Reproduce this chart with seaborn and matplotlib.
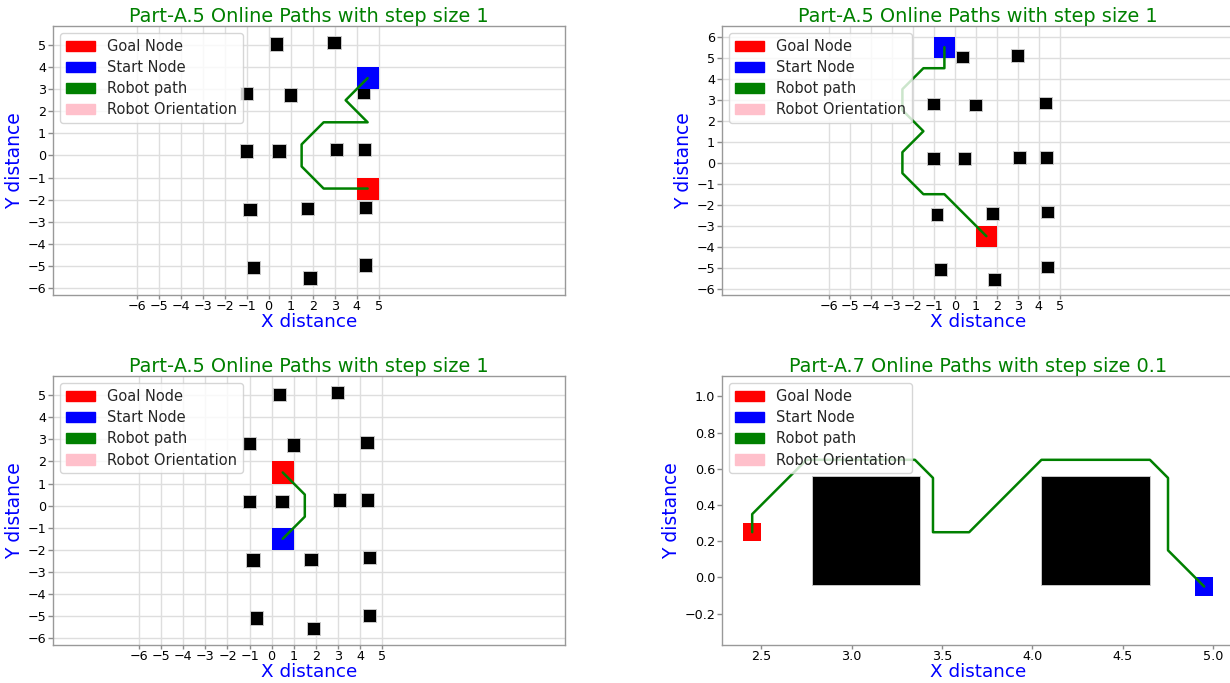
import matplotlib
matplotlib.use("Agg")
import matplotlib.pyplot as plt
from matplotlib.patches import Rectangle, Patch
import seaborn as sns

# Landmark obstacles (centres, metres)
obstacle_x = [0.35, 2.97, -1.02, 0.99, 4.32, -1.01, 0.47, 3.08, 4.35, -0.85, 1.78, 4.42, -0.69, 1.88, 4.42]
obstacle_y = [5.04, 5.10, 2.80, 2.74, 2.85, 0.20, 0.20, 0.26, 0.26, -2.46, -2.42, -2.35, -5.08, -5.55, -4.96]

# Run 1, step size 1
start1 = (4.5, 3.5)
goal1 = (4.5, -1.5)
path1_x = [4.5, 3.5, 4.5, 3.5, 2.5, 1.5, 1.5, 2.5, 3.5, 4.5]
path1_y = [3.5, 2.5, 1.5, 1.5, 1.5, 0.5, -0.5, -1.5, -1.5, -1.5]

# Run 2, step size 1
start2 = (-0.5, 5.5)
goal2 = (1.5, -3.5)
path2_x = [-0.5, -0.5, -1.5, -2.5, -2.5, -1.5, -2.5, -2.5, -1.5, -0.5, 0.5, 1.5]
path2_y = [5.5, 4.5, 4.5, 3.5, 2.5, 1.5, 0.5, -0.5, -1.5, -1.5, -2.5, -3.5]

# Run 3, step size 1
start3 = (0.5, -1.5)
goal3 = (0.5, 1.5)
path3_x = [0.5, 1.5, 1.5, 0.5]
path3_y = [-1.5, -0.5, 0.5, 1.5]

# Run 4, step size 0.1
start4 = (4.95, -0.05)
goal4 = (2.45, 0.25)
path4_x = [4.95, 4.75, 4.75, 4.65, 4.05, 3.65, 3.45, 3.45, 3.35, 2.75, 2.45, 2.45]
path4_y = [-0.05, 0.15, 0.55, 0.65, 0.65, 0.25, 0.25, 0.55, 0.65, 0.65, 0.35, 0.25]

titles = ["Part-A.5 Online Paths with step size 1",
          "Part-A.5 Online Paths with step size 1",
          "Part-A.5 Online Paths with step size 1",
          "Part-A.7 Online Paths with step size 0.1"]
legend_labels = ["Goal Node", "Start Node", "Robot path", "Robot Orientation"]
legend_colors = ["red", "blue", "green", "pink"]

sns.set_theme(style="whitegrid", rc={
    "axes.edgecolor": "0.6",
    "axes.linewidth": 1.0,
    "grid.color": "#dedede",
    "grid.linewidth": 1.0,
    "xtick.bottom": True,
    "ytick.left": True,
    "xtick.color": "0.55",
    "ytick.color": "0.55",
    "xtick.labelcolor": "black",
    "ytick.labelcolor": "black",
    "xtick.major.size": 3.0,
    "ytick.major.size": 3.5,
    "xtick.major.width": 1.0,
    "ytick.major.width": 1.0,
    "xtick.major.pad": 0.5,
    "ytick.major.pad": 1.5,
    "xtick.labelsize": 9.2,
    "ytick.labelsize": 9.2,
})
plt.rcParams["font.family"] = ["DejaVu Sans"]

W, H = 1230, 683
fig = plt.figure(figsize=(W / 100, H / 100), dpi=100)


def make_axes(left, top, w=512, h=269):
    return fig.add_axes([left / W, 1 - (top + h) / H, w / W, h / H])


def draw_panel(ax, title, path_x, path_y, start, goal, step, xlim, ylim,
               xticks=None, yticks=None, grid=True):
    # obstacles sit beneath the grid lines
    for ox, oy in zip(obstacle_x, obstacle_y):
        ax.add_patch(Rectangle((ox - 0.3, oy - 0.3), 0.6, 0.6,
                               facecolor="black", edgecolor="#c8c8c8",
                               linewidth=0.7, zorder=1))
    ax.add_patch(Rectangle((goal[0] - step / 2, goal[1] - step / 2), step, step,
                           facecolor="red", edgecolor="none", zorder=1.1))
    ax.add_patch(Rectangle((start[0] - step / 2, start[1] - step / 2), step, step,
                           facecolor="blue", edgecolor="none", zorder=1.1))
    sns.lineplot(x=path_x, y=path_y, sort=False, estimator=None,
                 color="green", linewidth=1.8, ax=ax, zorder=2)
    ax.set_xlim(*xlim)
    ax.set_ylim(*ylim)
    if xticks is not None:
        ax.set_xticks(xticks)
    if yticks is not None:
        ax.set_yticks(yticks)
    ax.grid(grid)
    ax.set_title(title, color="green", fontsize=13.9, pad=1)
    ax.set_xlabel("X distance", color="blue", fontsize=13.2, labelpad=0)
    ax.set_ylabel("Y distance", color="blue", fontsize=13.5, labelpad=2)
    handles = [Patch(color=c, label=l) for c, l in zip(legend_colors, legend_labels)]
    ax.legend(handles=handles, loc="upper left", fontsize=10.5, labelspacing=0.42)


ax1 = make_axes(53, 26)
draw_panel(ax1, titles[0], path1_x, path1_y, start1, goal1, 1,
           (-9.80, 13.47), (-6.32, 5.86), range(-6, 6), range(-6, 6))

ax2 = make_axes(722, 26)
draw_panel(ax2, titles[1], path2_x, path2_y, start2, goal2, 1,
           (-11.09, 13.29), (-6.30, 6.51), range(-6, 6), range(-6, 7))

ax3 = make_axes(53, 376)
draw_panel(ax3, titles[2], path3_x, path3_y, start3, goal3, 1,
           (-9.90, 13.28), (-6.30, 5.86), range(-6, 6), range(-6, 6))

ax4 = make_axes(722, 376)
draw_panel(ax4, titles[3], path4_x, path4_y, start4, goal4, 0.1,
           (2.283, 5.115), (-0.373, 1.113), grid=False)

fig.savefig("out.png", dpi=100)
